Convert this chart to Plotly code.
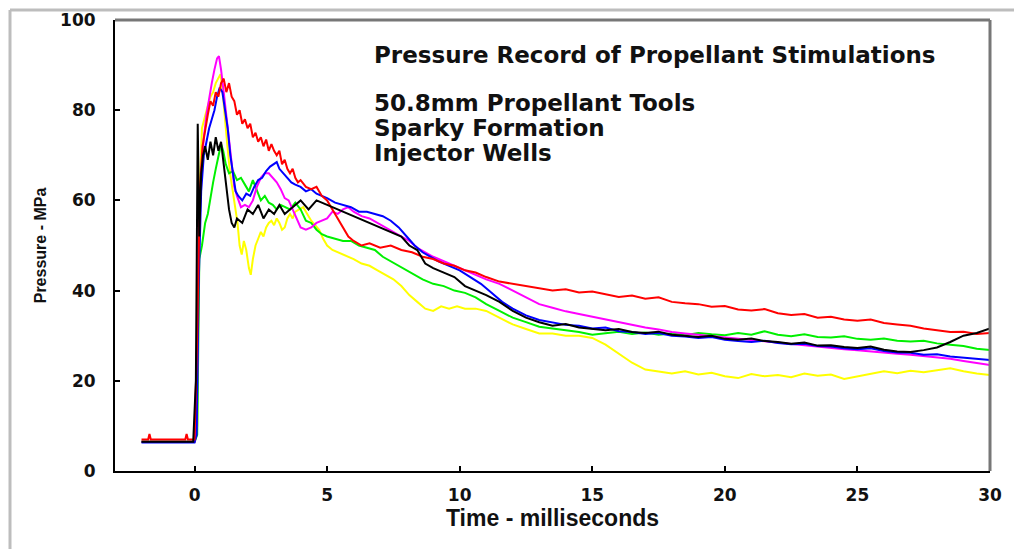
import plotly.graph_objects as go

# (time ms, pressure MPa)
black = [(-2.0, 6.5), (-0.05, 6.5), (0.05, 20), (0.12, 77), (0.18, 52), (0.25, 66), (0.32, 70), (0.4, 72),
         (0.5, 69), (0.6, 73), (0.7, 70), (0.8, 74), (0.9, 71), (1.0, 73), (1.1, 68), (1.2, 63), (1.3, 58),
         (1.4, 55), (1.5, 54), (1.6, 56), (1.8, 55), (2.0, 58), (2.2, 57), (2.4, 59), (2.6, 56), (2.8, 58),
         (3.0, 57), (3.2, 59), (3.4, 57), (3.6, 58), (3.8, 59), (4.0, 60), (4.3, 58), (4.6, 60), (5.0, 59),
         (5.4, 58), (5.8, 57), (6.2, 56), (6.6, 55), (7.0, 54), (7.4, 53), (7.8, 52), (8.1, 50), (8.4, 49),
         (8.7, 46), (9.0, 45), (9.4, 44), (9.8, 43), (10.2, 41), (10.6, 40), (11.0, 39), (11.5, 37.5),
         (12.0, 35.5), (12.5, 34), (13, 33), (13.5, 32.2), (14, 32.6), (14.5, 31.8), (15, 31.5), (15.5, 31.2),
         (16, 31.5), (16.5, 30.8), (17, 30.6), (17.5, 30.9), (18, 30.2), (18.5, 30), (19, 29.7), (19.5, 30),
         (20, 29.3), (20.5, 29.1), (21, 29.4), (21.5, 28.8), (22, 28.6), (22.5, 28.2), (23, 28.5), (23.5, 27.8),
         (24, 27.9), (24.5, 27.5), (25, 27.3), (25.5, 27.6), (26, 26.9), (26.5, 26.5), (27, 26.4), (27.5, 26.8),
         (28, 27.4), (28.5, 28.6), (29, 30), (29.5, 30.6), (30, 31.6)]

red = [(-2.0, 7), (-1.75, 7), (-1.7, 8.2), (-1.65, 7), (-0.35, 7), (-0.3, 8.2), (-0.25, 7), (0.0, 7),
       (0.1, 30), (0.2, 62), (0.3, 72), (0.4, 76), (0.5, 79), (0.6, 82), (0.7, 81), (0.8, 84), (0.9, 83),
       (1.0, 86), (1.1, 87), (1.2, 84), (1.3, 86), (1.4, 83), (1.5, 82), (1.6, 79), (1.7, 80), (1.8, 77),
       (1.9, 78), (2.0, 76), (2.1, 77), (2.2, 74), (2.3, 75), (2.4, 73), (2.5, 74), (2.6, 72), (2.7, 73.5),
       (2.8, 71), (2.9, 72.5), (3.0, 71), (3.1, 70), (3.2, 71), (3.3, 68), (3.4, 69), (3.5, 67), (3.6, 66),
       (3.7, 67), (3.8, 65), (3.9, 64), (4.0, 64.5), (4.2, 63), (4.4, 62.5), (4.6, 63), (4.8, 61), (5.0, 60),
       (5.2, 58), (5.4, 56), (5.6, 54), (5.8, 52), (6.0, 51), (6.3, 50), (6.6, 50.5), (7.0, 49.5), (7.4, 50),
       (7.8, 49), (8.2, 48.5), (8.6, 47.5), (9.0, 47), (9.4, 46), (9.8, 45.5), (10.2, 44.5), (10.6, 44),
       (11.0, 43), (11.5, 42), (12.0, 41.5), (12.5, 41), (13, 40.5), (13.5, 40), (14, 40.3), (14.5, 39.6),
       (15, 39.8), (15.5, 39.2), (16, 38.6), (16.5, 38.9), (17, 38.2), (17.5, 38.5), (18, 37.5), (18.5, 37.2),
       (19, 37), (19.5, 36.4), (20, 36.6), (20.5, 35.8), (21, 35.6), (21.5, 35.9), (22, 35), (22.5, 34.6),
       (23, 34.8), (23.5, 34), (24, 34.2), (24.5, 33.6), (25, 33.3), (25.5, 33.6), (26, 32.8), (26.5, 32.5),
       (27, 32.2), (27.5, 31.6), (28, 31.2), (28.5, 30.8), (29, 30.9), (29.5, 30.4), (30, 30.6)]

blue = [(-2, 6.3), (0, 6.3), (0.08, 8), (0.15, 40), (0.25, 62), (0.35, 70), (0.45, 73), (0.55, 76),
        (0.65, 78), (0.75, 80), (0.85, 83), (0.95, 85), (1.05, 84), (1.15, 80), (1.25, 76), (1.35, 70),
        (1.45, 66), (1.55, 62), (1.65, 61), (1.8, 60), (1.95, 61.5), (2.1, 61), (2.25, 63), (2.4, 64.5),
        (2.55, 65), (2.7, 66.5), (2.85, 67.5), (3.0, 68), (3.1, 68.5), (3.2, 67), (3.35, 66), (3.5, 65),
        (3.65, 64), (3.8, 63.5), (4.0, 63), (4.2, 62), (4.4, 62.5), (4.6, 61.5), (4.8, 61), (5.0, 60.5),
        (5.3, 59.5), (5.6, 59), (5.9, 58.5), (6.2, 57.5), (6.5, 57.5), (6.8, 57), (7.1, 56.5), (7.4, 55.5),
        (7.7, 54), (8.0, 52), (8.3, 50), (8.6, 48.5), (8.9, 47.5), (9.2, 46.5), (9.6, 45.5), (10.0, 44.5),
        (10.4, 43), (10.8, 41.5), (11.2, 39.5), (11.6, 37.5), (12.0, 36), (12.5, 34.5), (13, 33.5),
        (13.5, 33), (14, 32.4), (14.5, 32.2), (15, 31.6), (15.5, 31.8), (16, 31), (16.5, 30.8), (17, 30.4),
        (17.5, 30.6), (18, 30), (18.5, 29.8), (19, 29.5), (19.5, 29.7), (20, 29.1), (20.5, 28.8), (21, 28.6),
        (21.5, 28.9), (22, 28.4), (22.5, 28.1), (23, 28.2), (23.5, 27.7), (24, 27.6), (24.5, 27.2), (25, 27),
        (25.5, 27.2), (26, 26.6), (26.5, 26.3), (27, 26.2), (27.5, 25.8), (28, 25.9), (28.5, 25.4),
        (29, 25.1), (29.5, 24.9), (30, 24.6)]

magenta = [(-2, 6.5), (0, 6.5), (0.08, 10), (0.15, 50), (0.25, 66), (0.35, 74), (0.45, 79), (0.55, 83),
           (0.65, 86), (0.75, 89), (0.85, 91.5), (0.92, 92), (1.0, 89), (1.1, 84), (1.2, 79), (1.3, 74),
           (1.4, 68), (1.5, 63), (1.6, 61), (1.75, 58.5), (1.9, 59), (2.05, 58.5), (2.2, 60), (2.35, 63),
           (2.5, 65), (2.65, 66), (2.8, 66), (2.95, 65), (3.1, 64), (3.25, 62.5), (3.4, 60.5), (3.55, 60),
           (3.7, 58), (3.85, 56), (4.0, 54), (4.2, 53.5), (4.4, 54), (4.6, 55), (4.8, 55.5), (5.0, 56),
           (5.2, 57.5), (5.4, 57), (5.6, 58), (5.8, 58.5), (6.0, 57.5), (6.3, 56.5), (6.6, 56), (6.9, 55),
           (7.2, 54), (7.5, 53), (7.8, 52), (8.1, 51), (8.4, 49.5), (8.7, 48.5), (9.0, 47.5), (9.4, 46.5),
           (9.8, 45.5), (10.2, 44.5), (10.6, 43.5), (11.0, 42.5), (11.5, 41.5), (12.0, 40), (12.5, 38.5),
           (13, 37), (13.5, 36.2), (14, 35.4), (14.5, 34.8), (15, 34.2), (15.5, 33.5), (16, 33), (16.5, 32.3),
           (17, 31.8), (17.5, 31.4), (18, 30.8), (18.5, 30.5), (19, 30.2), (19.5, 29.9), (20, 29.6),
           (20.5, 29.3), (21, 29), (21.5, 28.7), (22, 28.4), (22.5, 28.1), (23, 27.9), (23.5, 27.5), (24, 27.2),
           (24.5, 27), (25, 26.8), (25.5, 26.5), (26, 26.3), (26.5, 26), (27, 25.8), (27.5, 25.5), (28, 25.2),
           (28.5, 24.9), (29, 24.4), (29.5, 24), (30, 23.5)]

green = [(-2, 6.5), (0, 6.5), (0.1, 8), (0.18, 47), (0.28, 50), (0.4, 55), (0.5, 57), (0.6, 61), (0.7, 64),
         (0.8, 67), (0.9, 70), (1.0, 72.5), (1.08, 71), (1.18, 68), (1.3, 66), (1.45, 66.5), (1.6, 64.5),
         (1.75, 65), (1.9, 63.5), (2.05, 62), (2.2, 64.5), (2.35, 62), (2.5, 60), (2.65, 61), (2.8, 59.5),
         (2.95, 59), (3.1, 58), (3.25, 59), (3.4, 58.5), (3.6, 58), (3.8, 59.5), (4.0, 58), (4.2, 55.5),
         (4.4, 55), (4.6, 53.5), (4.8, 52.5), (5.0, 52), (5.3, 51.5), (5.6, 51), (5.9, 51), (6.2, 50),
         (6.5, 49.5), (6.8, 49), (7.1, 47.5), (7.4, 46.5), (7.7, 45.5), (8.0, 44.5), (8.3, 43.5), (8.6, 42.5),
         (9.0, 41.5), (9.4, 41), (9.8, 40), (10.2, 39.5), (10.6, 38.5), (11.0, 37), (11.5, 35.5), (12.0, 34),
         (12.5, 33), (13, 32), (13.5, 31.6), (14, 31.2), (14.5, 30.8), (15, 30.2), (15.5, 30.5), (16, 30.9),
         (16.5, 30.4), (17, 30.7), (17.5, 30.2), (18, 30.5), (18.5, 30.1), (19, 30.6), (19.5, 30.3),
         (20, 30.1), (20.5, 30.6), (21, 30.2), (21.5, 31), (22, 30.2), (22.5, 29.9), (23, 30.3), (23.5, 29.7),
         (24, 29.6), (24.5, 29.9), (25, 29.3), (25.5, 29.1), (26, 29.4), (26.5, 28.9), (27, 28.7), (27.5, 28.9),
         (28, 28.3), (28.5, 28), (29, 27.7), (29.5, 27.1), (30, 26.8)]

yellow = [(-2, 6.5), (0, 6.5), (0.1, 10), (0.18, 60), (0.28, 76), (0.4, 79), (0.5, 81), (0.6, 83), (0.7, 84),
          (0.8, 86), (0.9, 87), (0.98, 88), (1.06, 84), (1.14, 78), (1.24, 72), (1.34, 66), (1.44, 62),
          (1.54, 58), (1.62, 55), (1.7, 50), (1.78, 48), (1.86, 51), (1.95, 49), (2.05, 45), (2.12, 43.5),
          (2.2, 47), (2.3, 50), (2.4, 51.5), (2.5, 53), (2.6, 52), (2.7, 54), (2.8, 55), (2.9, 55.5),
          (3.0, 54.5), (3.1, 56), (3.2, 55), (3.3, 53.5), (3.4, 54), (3.5, 56), (3.6, 57), (3.7, 56),
          (3.8, 57.5), (3.95, 58), (4.1, 58.5), (4.25, 57), (4.4, 55.5), (4.55, 54.5), (4.7, 53.5),
          (4.85, 51.5), (5.0, 50), (5.2, 49), (5.4, 48.5), (5.6, 48), (5.8, 47.5), (6.0, 47), (6.3, 46),
          (6.6, 45.5), (6.9, 44.5), (7.2, 43.5), (7.5, 42.5), (7.8, 41), (8.1, 39), (8.4, 37.5), (8.7, 36),
          (9.0, 35.5), (9.3, 36.5), (9.6, 36), (9.9, 36.5), (10.2, 36), (10.6, 36), (11.0, 35.5), (11.5, 34),
          (12.0, 32.5), (12.5, 31.5), (13.0, 30.5), (13.5, 30.5), (14.0, 30), (14.5, 30), (15, 29.5),
          (15.5, 28), (16, 26), (16.5, 24), (17, 22.5), (17.5, 22), (18, 21.6), (18.5, 22.1), (19, 21.4),
          (19.5, 21.8), (20, 21), (20.5, 20.6), (21, 21.5), (21.5, 21), (22, 21.3), (22.5, 20.8), (23, 21.6),
          (23.5, 21.1), (24, 21.4), (24.5, 20.4), (25, 21), (25.5, 21.6), (26, 22.1), (26.5, 21.7), (27, 22.2),
          (27.5, 21.9), (28, 22.4), (28.5, 22.8), (29, 22.1), (29.5, 21.6), (30, 21.3)]

series = [("yellow", yellow, "#ffff00"), ("green", green, "#00f000"), ("magenta", magenta, "#ff00ff"),
          ("blue", blue, "#0000ff"), ("red", red, "#ff0000"), ("black", black, "#000000")]

x_ticks = [0, 5, 10, 15, 20, 25, 30]
y_ticks = [0, 20, 40, 60, 80, 100]

fig = go.Figure()
for name, pts, col in series:
    fig.add_trace(go.Scatter(x=[p[0] for p in pts], y=[p[1] for p in pts], mode="lines",
                             name=name, line=dict(color=col, width=2), showlegend=False))

tickfont = dict(family="DejaVu Sans", size=17, color="#111", weight="bold")
fig.update_layout(
    width=1014, height=541,
    margin=dict(l=107, r=32, t=12, b=78),
    paper_bgcolor="white", plot_bgcolor="white",
    xaxis=dict(range=[-3, 30], tickvals=x_ticks, ticks="inside", ticklen=5, tickwidth=2, tickcolor="black",
               showline=True, linecolor="black", linewidth=2, showgrid=False, zeroline=False,
               tickfont=tickfont, ticklabelstandoff=8, automargin=False,
               title=dict(text="Time - milliseconds", standoff=0,
                          font=dict(family="Liberation Sans", size=23, color="#111", weight="bold"))),
    yaxis=dict(range=[0, 100], tickvals=y_ticks, ticks="inside", ticklen=5, tickwidth=2, tickcolor="black",
               showline=True, linecolor="black", linewidth=2, showgrid=False, zeroline=False,
               tickfont=tickfont, ticklabelstandoff=14, automargin=False,
               title=dict(text="Pressure - MPa", standoff=9,
                          font=dict(family="Liberation Sans", size=16, color="#111", weight="bold"))),
)

# top and right frame of the plot (gray)
fig.add_shape(type="line", xref="paper", yref="paper", x0=0, x1=1, y0=1, y1=1,
              line=dict(color="#777", width=3))
fig.add_shape(type="line", xref="paper", yref="paper", x0=1, x1=1, y0=0, y1=1,
              line=dict(color="#777", width=3))
# outer picture border (left and top)
fig.add_shape(type="line", xref="paper", yref="paper", x0=-0.12, x1=1.04, y0=1.0222, y1=1.0222,
              line=dict(color="#bdbdbd", width=3))
fig.add_shape(type="line", xref="paper", yref="paper", x0=-0.12, x1=-0.12, y0=-0.2, y1=1.0222,
              line=dict(color="#bdbdbd", width=3))

afont = dict(family="DejaVu Sans", size=23, color="#111", weight="bold")
fig.add_annotation(text="Pressure Record of Propellant Stimulations", xref="paper", yref="paper",
                   x=(372 - 115) / 875, y=(471 - 55) / 451, xanchor="left", yanchor="middle",
                   showarrow=False, font=afont)
for txt, py in [("50.8mm Propellant Tools", 103), ("Sparky Formation", 128), ("Injector Wells", 153)]:
    fig.add_annotation(text=txt, xref="paper", yref="paper", x=(372 - 115) / 875, y=(471 - py) / 451,
                       xanchor="left", yanchor="middle", showarrow=False, font=afont)

fig.write_html("out.html")
